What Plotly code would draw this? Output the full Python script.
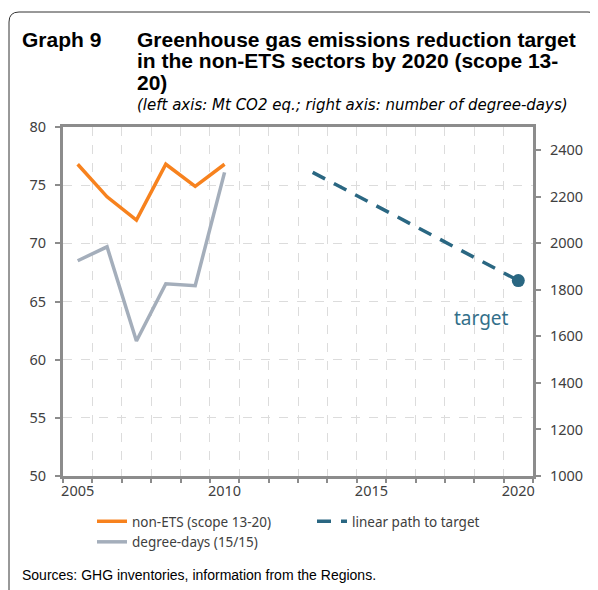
import plotly.graph_objects as go

# data
years_hist = [2005, 2006, 2007, 2008, 2009, 2010]
non_ets = [76.8, 74.0, 72.0, 76.8, 74.9, 76.8]
degree_days = [1925, 1985, 1580, 1826, 1818, 2305]

path_years = [2013, 2020]
path_values = [76.1, 66.8]

target_year = [2020]
target_value = [66.8]

ORANGE = "#F7821E"
GREY_LINE = "#A4AEBB"
TEAL = "#2A6782"
AXIS_GREY = "#8C8C8C"
GRID = "#DCDCDC"
TEXT = "#404040"

# the page body adds an 8px margin, so the figure is drawn 8px smaller
OFF = 8
W, H = 598 - OFF, 590 - OFF
L, R, T, B = 63 - OFF, 65, 127 - OFF, 114
PW, PH = W - L - R, H - T - B


def px_x(x):
    # x in window pixels -> paper coords
    return (x - OFF - L) / PW


def px_y(y):
    return (H - B - (y - OFF)) / PH


fig = go.Figure()
fig.add_trace(go.Scatter(
    x=years_hist, y=non_ets, mode="lines", name="non-ETS (scope 13-20)",
    line=dict(color=ORANGE, width=3.5),
))
fig.add_trace(go.Scatter(
    x=path_years, y=path_values, mode="lines", name="linear path to target",
    line=dict(color=TEAL, width=3.5, dash="14px,10px"),
))
fig.add_trace(go.Scatter(
    x=years_hist, y=degree_days, mode="lines", name="degree-days (15/15)",
    line=dict(color=GREY_LINE, width=3.5), yaxis="y2",
))
fig.add_trace(go.Scatter(
    x=target_year, y=target_value, mode="markers", showlegend=False,
    marker=dict(color=TEAL, size=13),
))

fig.add_annotation(x=2018.73, y=63.6, text="target", showarrow=False,
                   font=dict(family="Noto Sans", size=19, color="#336F8A"))

title_font = dict(family="Liberation Sans", size=21, color="#000000")
fig.add_annotation(xref="paper", yref="paper", x=px_x(20), y=px_y(39),
                   xanchor="left", yanchor="middle", showarrow=False,
                   text="<b>Graph 9</b>", font=title_font)
for txt, yy in [("Greenhouse gas emissions reduction target", 39),
                ("in the non-ETS sectors by 2020 (scope 13-", 61),
                ("20)", 82)]:
    fig.add_annotation(xref="paper", yref="paper", x=px_x(135), y=px_y(yy),
                       xanchor="left", yanchor="middle", showarrow=False,
                       text="<b>" + txt + "</b>", font=title_font)
fig.add_annotation(xref="paper", yref="paper", x=px_x(135), y=px_y(105),
                   xanchor="left", yanchor="middle", showarrow=False,
                   text="<i>(left axis: Mt CO2 eq.; right axis: number of degree-days)</i>",
                   font=dict(family="DejaVu Sans", size=15, color="#000000"))
fig.add_annotation(xref="paper", yref="paper", x=px_x(20), y=px_y(575),
                   xanchor="left", yanchor="middle", showarrow=False,
                   text="Sources: GHG inventories, information from the Regions.",
                   font=dict(family="Liberation Sans", size=14, color="#000000"))

# rounded frame round the whole graph
fig.add_shape(
    type="path", xref="paper", yref="paper",
    path=(f"M {px_x(9)},{px_y(592)} L {px_x(9)},{px_y(22)} "
          f"Q {px_x(9)},{px_y(12)} {px_x(19)},{px_y(12)} "
          f"L {px_x(588)},{px_y(12)} Q {px_x(597)},{px_y(12)} {px_x(599)},{px_y(20)}"),
    line=dict(color="#333333", width=1),
)

fig.update_layout(
    width=W, height=H,
    margin=dict(l=L, r=R, t=T, b=B),
    plot_bgcolor="white", paper_bgcolor="white",
    font=dict(family="Noto Sans", size=14.5, color=TEXT),
    showlegend=True,
    legend=dict(orientation="h", x=px_x(92), y=px_y(506), xanchor="left", yanchor="top",
                entrywidth=175, font=dict(family="Noto Sans", size=13.5, color=TEXT),
                bgcolor="rgba(0,0,0,0)"),
    xaxis=dict(
        range=[2004.5, 2020.5], tickvals=[2005, 2010, 2015, 2020], ticks="",
        showgrid=False, zeroline=False,
        showline=True, linecolor=AXIS_GREY, linewidth=3, mirror=True,
        minor=dict(tick0=2004.5, dtick=1, ticks="outside", ticklen=4, tickwidth=2,
                   tickcolor=AXIS_GREY, showgrid=True, gridcolor=GRID,
                   griddash="dash", gridwidth=1),
        ticklabelstandoff=0,
    ),
    yaxis=dict(
        range=[50, 80], dtick=5, ticks="outside", ticklen=5, tickwidth=2,
        tickcolor=AXIS_GREY, showline=True, linecolor=AXIS_GREY, linewidth=3,
        mirror=True, gridcolor=GRID, griddash="dash", gridwidth=1, zeroline=False,
        ticklabelstandoff=6,
    ),
    yaxis2=dict(
        range=[1000, 2500], tickvals=[1000, 1200, 1400, 1600, 1800, 2000, 2200, 2400],
        overlaying="y", side="right", ticks="outside", ticklen=5, tickwidth=2,
        tickcolor=AXIS_GREY, showline=True, linecolor=AXIS_GREY, linewidth=3,
        showgrid=False, zeroline=False, ticklabelstandoff=6,
    ),
)

fig.write_html("out.html")
